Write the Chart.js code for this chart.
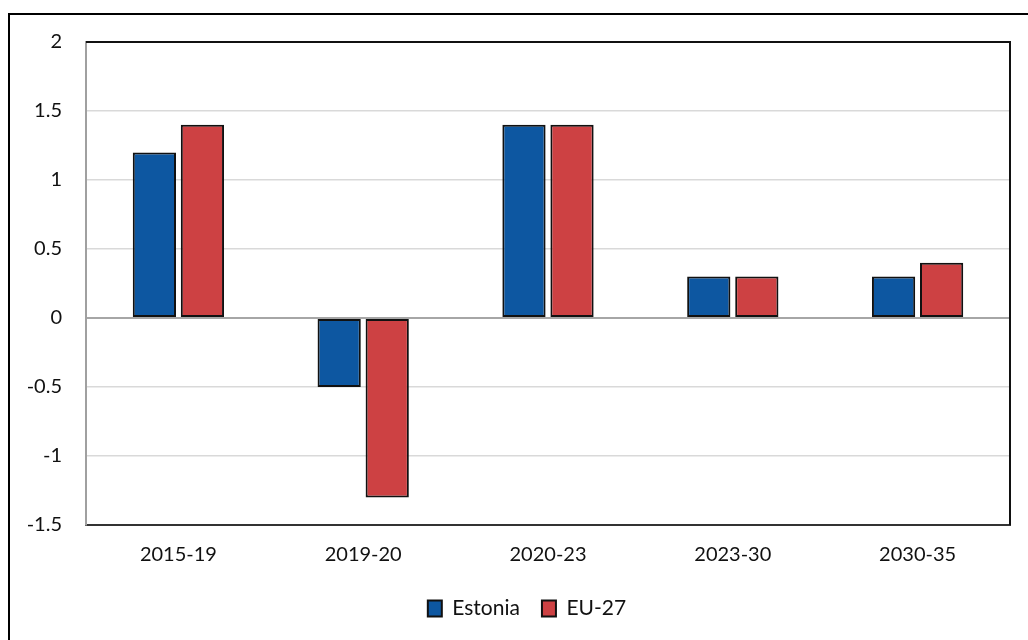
<!DOCTYPE html>
<html>
<head>
<meta charset="utf-8">
<script src="https://cdn.jsdelivr.net/npm/chart.js@4.4.0/dist/chart.umd.min.js"></script>
<style>
  html, body { margin: 0; padding: 0; background: #fff; }
  #wrap { position: relative; width: 1028px; height: 640px; }
</style>
</head>
<body>
<div id="wrap"><canvas id="chart" width="1028" height="640"></canvas></div>
<script>
// Chart data
const periods = ['2015-19', '2019-20', '2020-23', '2023-30', '2030-35'];
const estonia = [1.2, -0.5, 1.4, 0.3, 0.3];
const eu27 = [1.4, -1.3, 1.4, 0.3, 0.4];
const yMin = -1.5;
const yMax = 2;
const yStep = 0.5;

const textColor = '#111';
const fontFamily = 'Lato, "Noto Sans", sans-serif';

// Outer frame plus the black top/right edge of the plot area
const framePlugin = {
  id: 'frame',
  afterLayout(chart) {
    // the legend sits a bit right of the canvas centre in the reference
    if (chart.legend) {
      chart.legend.left += 22;
      chart.legend.right += 22;
    }
  },
  beforeDraw(chart) {
    const ctx = chart.ctx;
    ctx.save();
    ctx.strokeStyle = '#000';
    ctx.lineWidth = 2;
    ctx.beginPath();
    ctx.moveTo(9, 640);
    ctx.lineTo(9, 14);
    ctx.lineTo(1028, 14);
    ctx.stroke();
    ctx.restore();
  },
  afterDraw(chart) {
    const a = chart.chartArea;
    const ctx = chart.ctx;
    ctx.save();
    ctx.strokeStyle = '#111';
    ctx.lineWidth = 2;
    ctx.beginPath();
    ctx.moveTo(a.left, a.top);
    ctx.lineTo(a.right, a.top);
    ctx.lineTo(a.right, a.bottom);
    ctx.stroke();
    ctx.restore();
  }
};

new Chart(document.getElementById('chart'), {
  type: 'bar',
  data: {
    labels: periods,
    datasets: [
      {
        label: 'Estonia',
        data: estonia,
        backgroundColor: '#0d57a1',
        borderColor: '#111',
        borderWidth: 2,
        borderSkipped: false
      },
      {
        label: 'EU-27',
        data: eu27,
        backgroundColor: '#cd4143',
        borderColor: '#111',
        borderWidth: 2,
        borderSkipped: false
      }
    ]
  },
  options: {
    responsive: false,
    animation: false,
    devicePixelRatio: 1,
    layout: { padding: { top: 42, right: 18, left: 0, bottom: 11 } },
    datasets: {
      bar: { categoryPercentage: 0.52, barPercentage: 0.9 }
    },
    scales: {
      x: {
        grid: { display: false, drawTicks: false },
        border: { display: true, color: '#333', width: 2 },
        ticks: {
          color: textColor,
          font: { family: fontFamily, size: 20 },
          padding: 18,
          maxRotation: 0
        },
        afterFit(scale) { scale.height = 51; }
      },
      y: {
        min: yMin,
        max: yMax,
        grid: {
          drawTicks: false,
          color: (c) => c.tick && c.tick.value === 0 ? '#a6a6a6' : '#d9d9d9',
          lineWidth: (c) => c.tick && c.tick.value === 0 ? 2 : 1.5
        },
        border: { display: true, color: '#a0a0a0', width: 2 },
        ticks: {
          stepSize: yStep,
          color: textColor,
          font: { family: fontFamily, size: 20 },
          padding: 24,
          callback: (v) => String(Math.round(v * 10) / 10)
        },
        afterFit(scale) { scale.width = 86; }
      }
    },
    plugins: {
      legend: {
        position: 'bottom',
        labels: {
          color: textColor,
          font: { family: fontFamily, size: 21 },
          boxWidth: 14,
          boxHeight: 16,
          padding: 22
        }
      },
      tooltip: { enabled: false }
    }
  },
  plugins: [framePlugin]
});
</script>
</body>
</html>
